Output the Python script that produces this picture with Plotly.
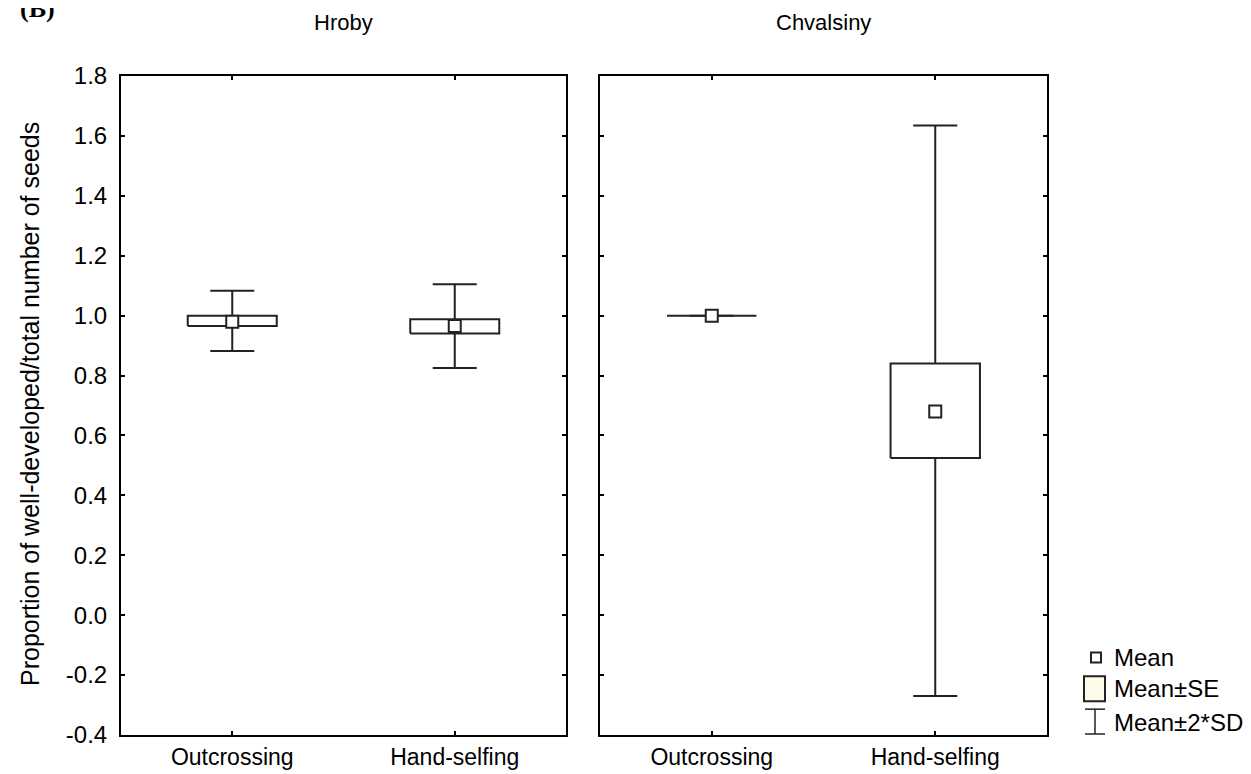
import plotly.graph_objects as go

# ---- data ----
sites = ["Hroby", "Chvalsiny"]
treatments = ["Outcrossing", "Hand-selfing"]
means = {"Hroby": [0.98, 0.965], "Chvalsiny": [1.0, 0.68]}
se_lo = {"Hroby": [0.965, 0.94], "Chvalsiny": [1.0, 0.525]}
se_hi = {"Hroby": [1.0, 0.988], "Chvalsiny": [1.0, 0.84]}
sd_lo = {"Hroby": [0.882, 0.825], "Chvalsiny": [1.0, -0.27]}
sd_hi = {"Hroby": [1.083, 1.105], "Chvalsiny": [1.0, 1.635]}
y_ticks = [-0.4, -0.2, 0.0, 0.2, 0.4, 0.6, 0.8, 1.0, 1.2, 1.4, 1.6, 1.8]
legend_labels = ["Mean", "Mean±SE", "Mean±2*SD"]

# ---- style ----
W, H = 1251, 774
ML, MR, MT, MB = 113, 212, 68, 43
PW = W - ML - MR
PH = H - MT - MB
dom1 = [0, (558 - ML) / PW]
dom2 = [(592 - ML) / PW, 1]
box_half = 0.2
ink = "#222222"
font_main = "Liberation Sans, Arial, sans-serif"

fig = go.Figure()
axes = [("x", "y"), ("x2", "y2")]
for site, (xa, ya) in zip(sites, axes):
    pos = list(range(len(treatments)))
    # whiskers (mean ± 2SD) drawn first
    fig.add_trace(go.Scatter(
        x=pos, y=means[site], xaxis=xa, yaxis=ya, mode="markers",
        marker=dict(color="rgba(0,0,0,0)", size=1),
        error_y=dict(type="data", symmetric=False,
                     array=[h - m for h, m in zip(sd_hi[site], means[site])],
                     arrayminus=[m - l for m, l in zip(means[site], sd_lo[site])],
                     width=22, thickness=2, color=ink),
        showlegend=False, hoverinfo="skip"))
    # SE boxes
    for i, p in enumerate(pos):
        lo, hi = se_lo[site][i], se_hi[site][i]
        fig.add_trace(go.Scatter(
            x=[p - box_half, p + box_half, p + box_half, p - box_half, p - box_half],
            y=[lo, lo, hi, hi, lo], xaxis=xa, yaxis=ya,
            mode="lines", fill="toself", fillcolor="white",
            line=dict(color=ink, width=2), showlegend=False, hoverinfo="skip"))
    # means
    fig.add_trace(go.Scatter(
        x=pos, y=means[site], xaxis=xa, yaxis=ya, mode="markers",
        marker=dict(symbol="square", size=12, color="white",
                    line=dict(color=ink, width=2)),
        showlegend=False))

common_x = dict(range=[-0.5, 1.5], tickvals=[0, 1], ticktext=treatments,
                ticks="inside", ticklen=4, tickwidth=1.5, tickcolor="black",
                showline=True, linecolor="black", linewidth=2, mirror="ticks",
                showgrid=False, zeroline=False,
                tickfont=dict(family=font_main, size=23, color="black"))
common_y = dict(range=[-0.4, 1.8], tickvals=y_ticks,
                ticktext=[f"{v:.1f}" for v in y_ticks],
                ticks="inside", ticklen=4, tickwidth=1.5, tickcolor="black",
                showline=True, linecolor="black", linewidth=2, mirror="ticks",
                showgrid=False, zeroline=False,
                tickfont=dict(family=font_main, size=24, color="black"))

fig.update_layout(
    width=W, height=H, margin=dict(l=ML, r=MR, t=MT, b=MB),
    paper_bgcolor="white", plot_bgcolor="white",
    xaxis=dict(domain=dom1, anchor="y", **common_x),
    xaxis2=dict(domain=dom2, anchor="y2", **common_x),
    yaxis=dict(anchor="x", ticklabelstandoff=7, **common_y),
    yaxis2=dict(anchor="x2", showticklabels=False, **common_y),
    showlegend=False,
)

def px_x(p):
    return (p - ML) / PW

def px_y(p):
    return (H - MB - p) / PH

anns = []
for txt, dom in [("Hroby", dom1), ("Chvalsiny", dom2)]:
    anns.append(dict(text=txt, x=(dom[0] + dom[1]) / 2, y=px_y(14), xref="paper",
                     yref="paper", showarrow=False, xanchor="center", yanchor="middle",
                     font=dict(family=font_main, size=22, color="black")))
anns.append(dict(text="Proportion of well-developed/total number of seeds",
                 x=px_x(22), y=px_y(398), xref="paper", yref="paper", textangle=-90,
                 showarrow=False, xanchor="center", yanchor="middle",
                 font=dict(family=font_main, size=25, color="black")))
anns.append(dict(text="<b>(B)</b>", x=px_x(10), y=px_y(17), xref="paper", yref="paper",
                 showarrow=False, xanchor="left", yanchor="bottom",
                 font=dict(family="Liberation Serif, Times New Roman, serif", size=26,
                           color="black")))
legend_y = [653, 684, 718]
for lab, ly in zip(legend_labels, legend_y):
    anns.append(dict(text=lab, x=px_x(1104), y=px_y(ly), xref="paper", yref="paper",
                     showarrow=False, xanchor="left", yanchor="middle",
                     font=dict(family=font_main, size=24, color="black")))

shapes = [
    # mean symbol
    dict(type="rect", xref="paper", yref="paper", x0=px_x(1083), x1=px_x(1093),
         y0=px_y(648), y1=px_y(658), line=dict(color=ink, width=2), fillcolor="white"),
    # SE box symbol
    dict(type="rect", xref="paper", yref="paper", x0=px_x(1076), x1=px_x(1097),
         y0=px_y(672), y1=px_y(697), line=dict(color=ink, width=2), fillcolor="#fdfbe9"),
    # whisker symbol
    dict(type="line", xref="paper", yref="paper", x0=px_x(1087), x1=px_x(1087),
         y0=px_y(705), y1=px_y(730), line=dict(color=ink, width=1.5)),
    dict(type="line", xref="paper", yref="paper", x0=px_x(1077), x1=px_x(1097),
         y0=px_y(705), y1=px_y(705), line=dict(color=ink, width=1.5)),
    dict(type="line", xref="paper", yref="paper", x0=px_x(1077), x1=px_x(1097),
         y0=px_y(730), y1=px_y(730), line=dict(color=ink, width=1.5)),
]
fig.update_layout(annotations=anns, shapes=shapes)

fig.write_html("out.html")
